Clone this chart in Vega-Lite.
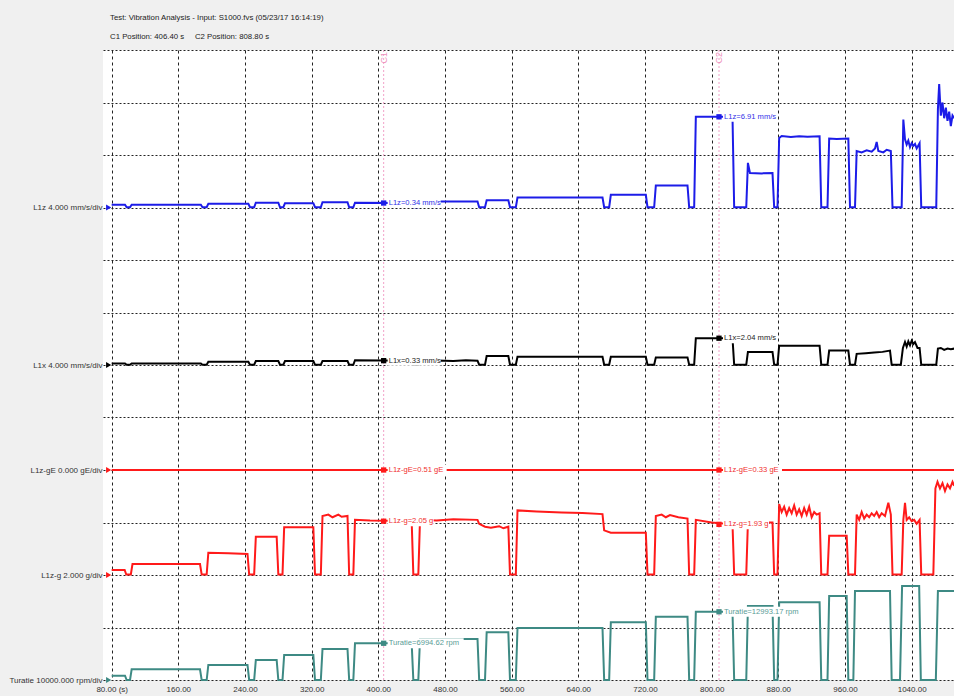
{
"$schema": "https://vega.github.io/schema/vega-lite/v6.json",
"width": 851, "height": 630,
"autosize": {"type": "none"},
"padding": {"left": 103, "top": 50, "right": 0, "bottom": 16},
"background": "#f0f0f0",
"config": {"view": {"fill": "white", "stroke": null}},
"title": {"text": "Test: Vibration Analysis - Input: S1000.fvs (05/23/17 16:14:19)", "subtitle": "C1 Position: 406.40 s\u00a0\u00a0\u00a0\u00a0 C2 Position: 808.80 s", "anchor": "start", "frame": "group", "dx": 7, "offset": 5, "font": "Liberation Sans", "fontSize": 7.8, "fontWeight": "normal", "color": "#222", "subtitleFont": "Liberation Sans", "subtitleFontSize": 7.8, "subtitleColor": "#222", "subtitlePadding": 11},
"datasets": {
"cpos": [{"n": "C1", "t": 406.4}, {"n": "C2", "t": 808.8}],
"cur": [
{"s": "L1z", "t": 406.4, "v": 0.34, "label": "L1z=0.34 mm/s"},
{"s": "L1z", "t": 808.8, "v": 6.91, "label": "L1z=6.91 mm/s"},
{"s": "L1x", "t": 406.4, "v": 0.33, "label": "L1x=0.33 mm/s"},
{"s": "L1x", "t": 808.8, "v": 2.04, "label": "L1x=2.04 mm/s"},
{"s": "L1z-gE", "t": 406.4, "v": 0, "label": "L1z-gE=0.51 gE"},
{"s": "L1z-gE", "t": 808.8, "v": 0, "label": "L1z-gE=0.33 gE"},
{"s": "L1z-g", "t": 406.4, "v": 2.05, "label": "L1z-g=2.05 g"},
{"s": "L1z-g", "t": 808.8, "v": 1.93, "label": "L1z-g=1.93 g"},
{"s": "Turatie", "t": 406.4, "v": 6994.62, "label": "Turatie=6994.62 rpm"},
{"s": "Turatie", "t": 808.8, "v": 12993.17, "label": "Turatie=12993.17 rpm"}
],
"l1z": [
{"t":80,"v":0.21},{"t":96,"v":0.21},{"t":98,"v":0.02},{"t":102,"v":0.02},{"t":104,"v":0.21},{"t":187,"v":0.21},{"t":189,"v":0.02},{"t":194,"v":0.02},{"t":196,"v":0.28},{"t":244,"v":0.28},{"t":246,"v":0.02},{"t":251,"v":0.02},{"t":253,"v":0.36},{"t":280,"v":0.36},{"t":282,"v":0.02},{"t":286,"v":0.02},{"t":288,"v":0.33},{"t":322,"v":0.33},{"t":324,"v":0.02},{"t":331,"v":0.02},{"t":333,"v":0.4},{"t":363,"v":0.4},{"t":365,"v":0.02},{"t":370,"v":0.02},{"t":372,"v":0.36},{"t":440,"v":0.34},{"t":442,"v":0.02},{"t":448,"v":0.02},{"t":450,"v":0.46},{"t":519,"v":0.46},{"t":521,"v":0.02},{"t":528,"v":0.02},{"t":530,"v":0.56},{"t":556,"v":0.56},{"t":558,"v":0.02},{"t":565,"v":0.02},{"t":567,"v":0.76},{"t":669,"v":0.76},{"t":671,"v":0.02},{"t":677,"v":0.02},{"t":679,"v":0.97},{"t":721,"v":0.97},{"t":723,"v":0.02},{"t":731,"v":0.02},{"t":733,"v":1.68},{"t":771,"v":1.68},{"t":773,"v":0.02},{"t":779,"v":0.02},{"t":781,"v":6.91},{"t":825,"v":6.91},{"t":827,"v":0.02},{"t":841.5,"v":0.02},{"t":843.5,"v":3.4},{"t":846,"v":2.62},{"t":860,"v":2.6},{"t":873,"v":2.62},{"t":875,"v":0.02},{"t":879,"v":0.02},{"t":881,"v":5.3},{"t":884,"v":5.45},{"t":895,"v":5.38},{"t":905,"v":5.43},{"t":915,"v":5.4},{"t":929.5,"v":5.42},{"t":931.5,"v":0.02},{"t":939,"v":0.02},{"t":941,"v":5.25},{"t":950,"v":5.22},{"t":964,"v":5.26},{"t":966,"v":0.02},{"t":972,"v":0.02},{"t":974,"v":4.3},{"t":980,"v":4.2},{"t":986,"v":4.35},{"t":992,"v":4.25},{"t":996,"v":4.5},{"t":998,"v":5.0},{"t":1000,"v":4.3},{"t":1006,"v":4.2},{"t":1010,"v":4.4},{"t":1015,"v":4.3},{"t":1017,"v":0.02},{"t":1028,"v":0.02},{"t":1030,"v":6.7},{"t":1032,"v":5.2},{"t":1034,"v":4.8},{"t":1036,"v":5.1},{"t":1038,"v":4.6},{"t":1040,"v":4.9},{"t":1042,"v":4.7},{"t":1044,"v":4.85},{"t":1046,"v":4.5},{"t":1049.5,"v":4.9},{"t":1051.5,"v":0.02},{"t":1069.5,"v":0.02},{"t":1071.5,"v":7.5},{"t":1073,"v":9.4},{"t":1075,"v":7.0},{"t":1077,"v":8.0},{"t":1079,"v":6.8},{"t":1081,"v":7.6},{"t":1083,"v":6.6},{"t":1085,"v":7.3},{"t":1087,"v":6.2},{"t":1089,"v":7.0},{"t":1091,"v":6.8}
],
"l1x": [
{"t":80,"v":0.12},{"t":96,"v":0.12},{"t":98,"v":0.02},{"t":102,"v":0.02},{"t":104,"v":0.12},{"t":187,"v":0.12},{"t":189,"v":0.02},{"t":194,"v":0.02},{"t":196,"v":0.25},{"t":244,"v":0.25},{"t":246,"v":0.02},{"t":251,"v":0.02},{"t":253,"v":0.3},{"t":280,"v":0.3},{"t":282,"v":0.02},{"t":286,"v":0.02},{"t":288,"v":0.3},{"t":322,"v":0.3},{"t":324,"v":0.02},{"t":331,"v":0.02},{"t":333,"v":0.3},{"t":363,"v":0.3},{"t":365,"v":0.02},{"t":370,"v":0.02},{"t":372,"v":0.36},{"t":440,"v":0.33},{"t":442,"v":0.02},{"t":448,"v":0.02},{"t":450,"v":0.33},{"t":470,"v":0.35},{"t":490,"v":0.3},{"t":505,"v":0.36},{"t":519,"v":0.33},{"t":521,"v":0.02},{"t":528,"v":0.02},{"t":530,"v":0.69},{"t":556,"v":0.69},{"t":558,"v":0.02},{"t":565,"v":0.02},{"t":567,"v":0.63},{"t":669,"v":0.63},{"t":671,"v":0.02},{"t":677,"v":0.02},{"t":679,"v":0.63},{"t":721,"v":0.63},{"t":723,"v":0.02},{"t":731,"v":0.02},{"t":733,"v":0.58},{"t":771,"v":0.58},{"t":773,"v":0.02},{"t":779,"v":0.02},{"t":781,"v":2.04},{"t":825,"v":2.04},{"t":827,"v":0.02},{"t":841.5,"v":0.02},{"t":843.5,"v":1.0},{"t":873,"v":1.0},{"t":875,"v":0.02},{"t":879,"v":0.02},{"t":881,"v":1.47},{"t":929.5,"v":1.47},{"t":931.5,"v":0.02},{"t":939,"v":0.02},{"t":941,"v":1.1},{"t":964,"v":1.1},{"t":966,"v":0.02},{"t":972,"v":0.02},{"t":974,"v":0.85},{"t":985,"v":0.9},{"t":995,"v":0.95},{"t":1005,"v":1.0},{"t":1014,"v":1.1},{"t":1016,"v":0.02},{"t":1027,"v":0.02},{"t":1029.5,"v":1.3},{"t":1032,"v":1.75},{"t":1034,"v":1.4},{"t":1036,"v":1.8},{"t":1038,"v":1.5},{"t":1040,"v":1.85},{"t":1042,"v":1.6},{"t":1044,"v":1.75},{"t":1047,"v":1.3},{"t":1049.5,"v":1.3},{"t":1051.5,"v":0.02},{"t":1069.5,"v":0.02},{"t":1071.5,"v":1.25},{"t":1075,"v":1.3},{"t":1079,"v":1.15},{"t":1083,"v":1.25},{"t":1087,"v":1.2},{"t":1091,"v":1.25}
],
"ge": [{"t":80,"v":0},{"t":1091,"v":0}],
"g": [
{"t":80,"v":0.19},{"t":95.6,"v":0.19},{"t":97.5,"v":0.02},{"t":103,"v":0.02},{"t":105,"v":0.42},{"t":186,"v":0.42},{"t":188,"v":0.02},{"t":194,"v":0.02},{"t":196,"v":0.85},{"t":220,"v":0.83},{"t":243,"v":0.8},{"t":245,"v":0.02},{"t":251,"v":0.02},{"t":253,"v":1.46},{"t":278,"v":1.46},{"t":280,"v":0.02},{"t":285,"v":0.02},{"t":287,"v":1.82},{"t":322,"v":1.82},{"t":324,"v":0.02},{"t":331,"v":0.02},{"t":333,"v":2.25},{"t":340,"v":2.3},{"t":345,"v":2.2},{"t":352,"v":2.3},{"t":356,"v":2.22},{"t":363,"v":2.25},{"t":365,"v":0.02},{"t":370,"v":0.02},{"t":372,"v":2.1},{"t":390,"v":2.08},{"t":440,"v":2.06},{"t":442,"v":0.02},{"t":448,"v":0.02},{"t":450,"v":2.1},{"t":470,"v":2.08},{"t":490,"v":2.12},{"t":519,"v":2.1},{"t":521,"v":1.95},{"t":528,"v":1.84},{"t":535,"v":1.8},{"t":545,"v":1.86},{"t":550,"v":1.78},{"t":556,"v":1.84},{"t":558,"v":0.02},{"t":565,"v":0.02},{"t":567,"v":2.46},{"t":590,"v":2.42},{"t":620,"v":2.38},{"t":645,"v":2.36},{"t":669,"v":2.32},{"t":671,"v":1.7},{"t":679,"v":1.61},{"t":721,"v":1.61},{"t":723,"v":0.02},{"t":731,"v":0.02},{"t":733,"v":2.25},{"t":740,"v":2.3},{"t":745,"v":2.2},{"t":750,"v":2.28},{"t":760,"v":2.2},{"t":771,"v":2.15},{"t":773,"v":0.02},{"t":779,"v":0.02},{"t":781,"v":2.1},{"t":800,"v":2.0},{"t":825,"v":1.93},{"t":827,"v":0.02},{"t":841.5,"v":0.02},{"t":843.5,"v":2.0},{"t":873,"v":2.0},{"t":875,"v":0.02},{"t":879,"v":0.02},{"t":881,"v":2.7},{"t":884,"v":2.4},{"t":887,"v":2.6},{"t":890,"v":2.3},{"t":893,"v":2.55},{"t":896,"v":2.35},{"t":899,"v":2.65},{"t":902,"v":2.3},{"t":905,"v":2.5},{"t":908,"v":2.25},{"t":911,"v":2.55},{"t":914,"v":2.3},{"t":917,"v":2.6},{"t":920,"v":2.2},{"t":923,"v":2.4},{"t":926,"v":2.3},{"t":929.5,"v":2.35},{"t":931.5,"v":0.02},{"t":939,"v":0.02},{"t":941,"v":1.5},{"t":962,"v":1.5},{"t":964,"v":0.02},{"t":972,"v":0.02},{"t":974,"v":2.3},{"t":977,"v":2.1},{"t":980,"v":2.4},{"t":983,"v":2.15},{"t":986,"v":2.3},{"t":989,"v":2.2},{"t":992,"v":2.35},{"t":995,"v":2.25},{"t":998,"v":2.4},{"t":1001,"v":2.2},{"t":1004,"v":2.35},{"t":1008,"v":2.25},{"t":1012,"v":2.75},{"t":1015,"v":2.3},{"t":1017,"v":0.02},{"t":1028,"v":0.02},{"t":1030,"v":2.1},{"t":1032,"v":2.75},{"t":1034,"v":2.1},{"t":1037,"v":2.2},{"t":1040,"v":2.05},{"t":1043,"v":2.1},{"t":1046,"v":1.95},{"t":1049.5,"v":2.1},{"t":1051.5,"v":0.02},{"t":1066,"v":0.02},{"t":1068.5,"v":3.3},{"t":1071,"v":3.55},{"t":1074,"v":3.3},{"t":1077,"v":3.5},{"t":1080,"v":3.2},{"t":1083,"v":3.45},{"t":1086,"v":3.3},{"t":1089,"v":3.55},{"t":1091,"v":3.4}
],
"rpm": [
{"t":80,"v":820},{"t":96,"v":820},{"t":98,"v":0},{"t":102,"v":0},{"t":104,"v":2040},{"t":186,"v":2040},{"t":188,"v":0},{"t":194,"v":0},{"t":196,"v":2860},{"t":243,"v":2860},{"t":245,"v":0},{"t":251,"v":0},{"t":253,"v":3810},{"t":278,"v":3810},{"t":280,"v":0},{"t":285,"v":0},{"t":287,"v":4760},{"t":322,"v":4760},{"t":324,"v":0},{"t":331,"v":0},{"t":333,"v":5900},{"t":363,"v":5900},{"t":365,"v":0},{"t":370,"v":0},{"t":372,"v":6990},{"t":440,"v":6990},{"t":442,"v":0},{"t":448,"v":0},{"t":450,"v":7810},{"t":519,"v":7810},{"t":521,"v":0},{"t":528,"v":0},{"t":530,"v":9090},{"t":556,"v":9090},{"t":558,"v":0},{"t":565,"v":0},{"t":567,"v":9900},{"t":669,"v":9900},{"t":671,"v":0},{"t":677,"v":0},{"t":679,"v":11000},{"t":721,"v":11000},{"t":723,"v":0},{"t":731,"v":0},{"t":733,"v":12060},{"t":771,"v":12060},{"t":773,"v":0},{"t":779,"v":0},{"t":781,"v":12993},{"t":825,"v":12993},{"t":827,"v":0},{"t":841.5,"v":0},{"t":843.5,"v":14100},{"t":873,"v":14100},{"t":875,"v":0},{"t":879,"v":0},{"t":881,"v":14800},{"t":929.5,"v":14800},{"t":931.5,"v":0},{"t":939,"v":0},{"t":941,"v":16000},{"t":962,"v":16000},{"t":964,"v":0},{"t":970,"v":0},{"t":972,"v":16950},{"t":1014,"v":16950},{"t":1016,"v":0},{"t":1026,"v":0},{"t":1028.5,"v":17900},{"t":1049,"v":17900},{"t":1051,"v":0},{"t":1069,"v":0},{"t":1071.5,"v":16950},{"t":1091,"v":16950}
]
},
"layer": [
{
"layer": [
{"data": {"name": "cpos"}, "mark": {"type": "rule", "color": "#f2a2c8", "strokeDash": [2,2], "strokeWidth": 1},
 "encoding": {
  "x": {"field": "t", "type": "quantitative", "scale": {"domain": [69.6, 1090.8], "nice": false, "zero": false},
   "axis": {"values": [80,160,240,320,400,480,560,640,720,800,880,960,1040], "labelExpr": "datum.value == 80 ? '80.00 (s)' : format(datum.value, '.2f')", "grid": true, "gridDash": [3,3], "gridColor": "#222", "gridWidth": 1, "domain": false, "ticks": false, "labelFont": "Liberation Sans", "labelFontSize": 8, "labelColor": "#333", "labelPadding": 5, "labelFlush": false, "labelOverlap": false, "title": null, "orient": "bottom"}},
  "y": {"datum": 0, "type": "quantitative", "scale": {"domain": [0, 12], "nice": false, "zero": false},
   "axis": {"values": [0,1,2,3,4,5,6,7,8,9,10,11,12], "labelExpr": "datum.value == 9 ? 'L1z 4.000 mm/s/div' : datum.value == 6 ? 'L1x 4.000 mm/s/div' : datum.value == 4 ? 'L1z-gE 0.000 gE/div' : datum.value == 2 ? 'L1z-g 2.000 g/div' : datum.value == 0 ? 'Turatie 10000.000 rpm/div' : ''", "grid": true, "gridDash": [2,2], "gridColor": "#222", "gridWidth": 1, "domain": false, "ticks": false, "labelFont": "Liberation Sans", "labelFontSize": 8, "labelColor": "#333", "labelPadding": 1, "labelOverlap": false, "labelBound": false, "title": null, "orient": "left"}},
  "y2": {"datum": 12}
 }},
{"data": {"name": "cpos"}, "mark": {"type": "text", "color": "#ee90bc", "angle": 270, "align": "right", "baseline": "middle", "dx": -2, "fontSize": 9, "font": "Liberation Sans"},
 "encoding": {"x": {"field": "t", "type": "quantitative"}, "y": {"datum": 12, "type": "quantitative"}, "text": {"field": "n"}}}
]
},
{
"layer": [
{"data": {"name": "l1z"}, "mark": {"type": "line", "color": "#1c1ce8", "strokeWidth": 2},
 "encoding": {"x": {"field": "t", "type": "quantitative"}, "y": {"field": "v", "type": "quantitative", "scale": {"domain": [-36, 12], "nice": false, "zero": false}, "axis": null}}},
{"data": {"name": "cur"}, "transform": [{"filter": "datum.s == 'L1z'"}], "mark": {"type": "rect", "fill": "white", "width": 53, "xOffset": 30.5, "yOffset": -5, "y2Offset": 5},
 "encoding": {"x": {"field": "t", "type": "quantitative"}, "y": {"field": "v", "type": "quantitative", "axis": null}, "y2": {"field": "v"}}},
{"data": {"name": "cur"}, "transform": [{"filter": "datum.s == 'L1z'"}], "mark": {"type": "point", "shape": "square", "filled": true, "size": 28, "color": "#1c1ce8", "opacity": 1},
 "encoding": {"x": {"field": "t", "type": "quantitative"}, "y": {"field": "v", "type": "quantitative", "axis": null}}},
{"data": {"name": "cur"}, "transform": [{"filter": "datum.s == 'L1z'"}], "mark": {"type": "text", "align": "left", "baseline": "middle", "dx": 5, "fontSize": 7.6, "color": "#3030e8", "font": "Liberation Sans"},
 "encoding": {"x": {"field": "t", "type": "quantitative"}, "y": {"field": "v", "type": "quantitative", "axis": null}, "text": {"field": "label"}}},
{"data": {"values": [{}]}, "mark": {"type": "point", "shape": "triangle-right", "filled": true, "size": 36, "color": "#1c1ce8", "opacity": 1, "xOffset": -3},
 "encoding": {"x": {"datum": 80, "type": "quantitative"}, "y": {"datum": 0, "type": "quantitative", "axis": null}}}
]
},
{
"layer": [
{"data": {"name": "l1x"}, "mark": {"type": "line", "color": "#000000", "strokeWidth": 2},
 "encoding": {"x": {"field": "t", "type": "quantitative"}, "y": {"field": "v", "type": "quantitative", "scale": {"domain": [-24, 24], "nice": false, "zero": false}, "axis": null}}},
{"data": {"name": "cur"}, "transform": [{"filter": "datum.s == 'L1x'"}], "mark": {"type": "rect", "fill": "white", "width": 53, "xOffset": 30.5, "yOffset": -5, "y2Offset": 5},
 "encoding": {"x": {"field": "t", "type": "quantitative"}, "y": {"field": "v", "type": "quantitative", "axis": null}, "y2": {"field": "v"}}},
{"data": {"name": "cur"}, "transform": [{"filter": "datum.s == 'L1x'"}], "mark": {"type": "point", "shape": "square", "filled": true, "size": 28, "color": "#000000", "opacity": 1},
 "encoding": {"x": {"field": "t", "type": "quantitative"}, "y": {"field": "v", "type": "quantitative", "axis": null}}},
{"data": {"name": "cur"}, "transform": [{"filter": "datum.s == 'L1x'"}], "mark": {"type": "text", "align": "left", "baseline": "middle", "dx": 5, "fontSize": 7.6, "color": "#222222", "font": "Liberation Sans"},
 "encoding": {"x": {"field": "t", "type": "quantitative"}, "y": {"field": "v", "type": "quantitative", "axis": null}, "text": {"field": "label"}}},
{"data": {"values": [{}]}, "mark": {"type": "point", "shape": "triangle-right", "filled": true, "size": 36, "color": "#000000", "opacity": 1, "xOffset": -3},
 "encoding": {"x": {"datum": 80, "type": "quantitative"}, "y": {"datum": 0, "type": "quantitative", "axis": null}}}
]
},
{
"layer": [
{"data": {"name": "ge"}, "mark": {"type": "line", "color": "#ff1a1a", "strokeWidth": 2},
 "encoding": {"x": {"field": "t", "type": "quantitative"}, "y": {"field": "v", "type": "quantitative", "scale": {"domain": [-4, 8], "nice": false, "zero": false}, "axis": null}}},
{"data": {"name": "cur"}, "transform": [{"filter": "datum.s == 'L1z-gE'"}], "mark": {"type": "rect", "fill": "white", "width": 59, "xOffset": 33.5, "yOffset": -5, "y2Offset": 5},
 "encoding": {"x": {"field": "t", "type": "quantitative"}, "y": {"field": "v", "type": "quantitative", "axis": null}, "y2": {"field": "v"}}},
{"data": {"name": "cur"}, "transform": [{"filter": "datum.s == 'L1z-gE'"}], "mark": {"type": "point", "shape": "square", "filled": true, "size": 28, "color": "#ff1a1a", "opacity": 1},
 "encoding": {"x": {"field": "t", "type": "quantitative"}, "y": {"field": "v", "type": "quantitative", "axis": null}}},
{"data": {"name": "cur"}, "transform": [{"filter": "datum.s == 'L1z-gE'"}], "mark": {"type": "text", "align": "left", "baseline": "middle", "dx": 5, "fontSize": 7.6, "color": "#f03030", "font": "Liberation Sans"},
 "encoding": {"x": {"field": "t", "type": "quantitative"}, "y": {"field": "v", "type": "quantitative", "axis": null}, "text": {"field": "label"}}},
{"data": {"values": [{}]}, "mark": {"type": "point", "shape": "triangle-right", "filled": true, "size": 36, "color": "#ff1a1a", "opacity": 1, "xOffset": -3},
 "encoding": {"x": {"datum": 80, "type": "quantitative"}, "y": {"datum": 0, "type": "quantitative", "axis": null}}}
]
},
{
"layer": [
{"data": {"name": "g"}, "mark": {"type": "line", "color": "#ff1a1a", "strokeWidth": 2},
 "encoding": {"x": {"field": "t", "type": "quantitative"}, "y": {"field": "v", "type": "quantitative", "scale": {"domain": [-4, 20], "nice": false, "zero": false}, "axis": null}}},
{"data": {"name": "cur"}, "transform": [{"filter": "datum.s == 'L1z-g'"}], "mark": {"type": "rect", "fill": "white", "width": 46, "xOffset": 27, "yOffset": -5, "y2Offset": 5},
 "encoding": {"x": {"field": "t", "type": "quantitative"}, "y": {"field": "v", "type": "quantitative", "axis": null}, "y2": {"field": "v"}}},
{"data": {"name": "cur"}, "transform": [{"filter": "datum.s == 'L1z-g'"}], "mark": {"type": "point", "shape": "square", "filled": true, "size": 28, "color": "#ff1a1a", "opacity": 1},
 "encoding": {"x": {"field": "t", "type": "quantitative"}, "y": {"field": "v", "type": "quantitative", "axis": null}}},
{"data": {"name": "cur"}, "transform": [{"filter": "datum.s == 'L1z-g'"}], "mark": {"type": "text", "align": "left", "baseline": "middle", "dx": 5, "fontSize": 7.6, "color": "#f03030", "font": "Liberation Sans"},
 "encoding": {"x": {"field": "t", "type": "quantitative"}, "y": {"field": "v", "type": "quantitative", "axis": null}, "text": {"field": "label"}}},
{"data": {"values": [{}]}, "mark": {"type": "point", "shape": "triangle-right", "filled": true, "size": 36, "color": "#ff1a1a", "opacity": 1, "xOffset": -3},
 "encoding": {"x": {"datum": 80, "type": "quantitative"}, "y": {"datum": 0, "type": "quantitative", "axis": null}}}
]
},
{
"layer": [
{"data": {"name": "rpm"}, "mark": {"type": "line", "color": "#3e8a84", "strokeWidth": 2},
 "encoding": {"x": {"field": "t", "type": "quantitative"}, "y": {"field": "v", "type": "quantitative", "scale": {"domain": [0, 120000], "nice": false, "zero": false}, "axis": null}}},
{"data": {"name": "cur"}, "transform": [{"filter": "datum.s == 'Turatie'"}], "mark": {"type": "rect", "fill": "white", "width": 76, "xOffset": 42, "yOffset": -5, "y2Offset": 5},
 "encoding": {"x": {"field": "t", "type": "quantitative"}, "y": {"field": "v", "type": "quantitative", "axis": null}, "y2": {"field": "v"}}},
{"data": {"name": "cur"}, "transform": [{"filter": "datum.s == 'Turatie'"}], "mark": {"type": "point", "shape": "square", "filled": true, "size": 28, "color": "#3e8a84", "opacity": 1},
 "encoding": {"x": {"field": "t", "type": "quantitative"}, "y": {"field": "v", "type": "quantitative", "axis": null}}},
{"data": {"name": "cur"}, "transform": [{"filter": "datum.s == 'Turatie'"}], "mark": {"type": "text", "align": "left", "baseline": "middle", "dx": 5, "fontSize": 7.6, "color": "#5a9c96", "font": "Liberation Sans"},
 "encoding": {"x": {"field": "t", "type": "quantitative"}, "y": {"field": "v", "type": "quantitative", "axis": null}, "text": {"field": "label"}}},
{"data": {"values": [{}]}, "mark": {"type": "point", "shape": "triangle-right", "filled": true, "size": 36, "color": "#3e8a84", "opacity": 1, "xOffset": -3},
 "encoding": {"x": {"datum": 80, "type": "quantitative"}, "y": {"datum": 0, "type": "quantitative", "axis": null}}}
]
}
],
"resolve": {"scale": {"y": "independent"}}
}
